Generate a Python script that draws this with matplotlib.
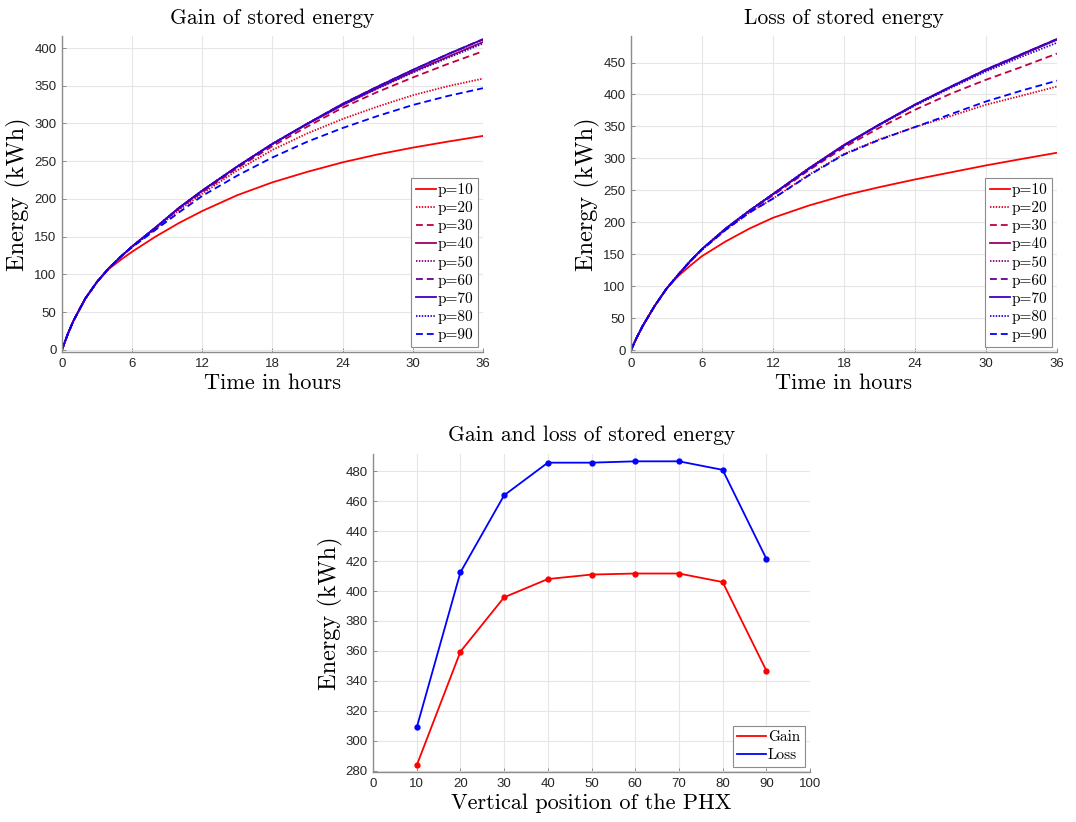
import matplotlib
matplotlib.use("Agg")
import matplotlib.pyplot as plt

# ---- data -------------------------------------------------------------
hours = [0, 0.5, 1, 2, 3, 4, 5, 6, 8, 10, 12, 15, 18, 21, 24, 27, 30, 33, 36]
positions = [10, 20, 30, 40, 50, 60, 70, 80, 90]

gain_p10 = [0, 21, 39, 68, 90, 107, 119, 130, 150, 168, 184, 205, 222, 236, 248.5, 259, 268, 276, 283.5]
gain_p20 = [0, 21, 39, 68, 90, 108, 123, 136, 160, 185, 207, 238, 265, 287, 306, 322.5, 337.5, 349.5, 359.5]
gain_p30 = [0, 21, 39, 68, 90, 108, 123, 137, 161, 187, 209, 241, 270, 296, 321, 342, 361, 379, 395.8]
gain_p40 = [0, 21, 39, 68, 90, 108, 123, 137, 162, 188, 211, 243, 273, 299.5, 324.5, 347, 368.5, 388.5, 408]
gain_p50 = [0, 21, 39, 68, 90, 108, 123, 137, 162, 188, 211, 243, 273, 300, 326, 349, 371, 391.5, 411]
gain_p60 = [0, 21, 39, 68, 90, 108, 123, 137, 162, 188, 211, 243, 273, 300, 326, 349, 371, 392, 411.7]
gain_p70 = [0, 21, 39, 68, 90, 108, 123, 137, 162, 188, 211, 243, 273, 300, 326, 349, 371, 392, 411.7]
gain_p80 = [0, 21, 39, 68, 90, 108, 123, 137, 162, 188, 211, 243, 273, 299.5, 324.5, 346.5, 367.5, 387, 406]
gain_p90 = [0, 21, 39, 68, 90, 108, 123, 136, 159, 182, 204, 231, 255, 276, 294, 310, 324.5, 336.5, 346.8]

loss_p10 = [0, 20, 38, 69, 96, 116, 132, 147, 170, 190, 207, 226, 242, 255, 267, 278, 289, 299, 308.8]
loss_p20 = [0, 20, 38, 69, 96, 118, 139, 157, 188, 215, 237, 274, 307, 330, 349, 366, 384, 398, 412.5]
loss_p30 = [0, 20, 38, 69, 96, 118, 139, 158, 189, 217, 242, 281, 317, 348, 376, 401, 423, 443, 464]
loss_p40 = [0, 20, 38, 69, 96, 118, 139, 158, 190, 218, 244, 284, 321, 353, 384, 411.5, 438, 462, 485.8]
loss_p50 = [0, 20, 38, 69, 96, 118, 139, 158, 190, 218, 244, 284, 321, 353, 384, 411.5, 438, 462, 485.8]
loss_p60 = [0, 20, 38, 69, 96, 118, 139, 158, 190, 218, 244, 283, 320, 353, 384, 412, 439, 463, 486.7]
loss_p70 = [0, 20, 38, 69, 96, 118, 139, 158, 190, 218, 244, 283, 320, 353, 384, 412, 439, 463, 486.7]
loss_p80 = [0, 20, 38, 69, 96, 118, 139, 158, 190, 218, 244, 284, 320, 352, 382.5, 410, 436, 459, 481]
loss_p90 = [0, 20, 38, 69, 96, 118, 139, 157, 188, 215, 237, 273, 306, 329, 349, 369, 389, 406, 421.6]

gain_series = [gain_p10, gain_p20, gain_p30, gain_p40, gain_p50,
               gain_p60, gain_p70, gain_p80, gain_p90]
loss_series = [loss_p10, loss_p20, loss_p30, loss_p40, loss_p50,
               loss_p60, loss_p70, loss_p80, loss_p90]

# energy after 36 h for each PHX position
gain_total = [s[-1] for s in gain_series]
loss_total = [s[-1] for s in loss_series]

# ---- style ------------------------------------------------------------
SERIF = "cmr10"
TICK_FONT = "Liberation Sans"
SPINE = "#8c8c8c"
TICK_COLOR = "#262626"
GRID = "#e6e6e6"

line_styles = ["solid", "dotted", "dashed"] * 3


def series_color(i, n=9):
    f = i / (n - 1)
    return (1 - f, 0, f)


def style_axes(ax):
    for side in ("top", "right"):
        ax.spines[side].set_visible(False)
    for side in ("left", "bottom"):
        ax.spines[side].set_color(SPINE)
        ax.spines[side].set_linewidth(1.0)
    ax.grid(True, color=GRID, linewidth=0.8)
    ax.set_axisbelow(True)
    ax.tick_params(direction="in", length=3, width=0.7, color=SPINE,
                   labelsize=9.5, labelcolor=TICK_COLOR, pad=4)
    for lab in ax.get_xticklabels() + ax.get_yticklabels():
        lab.set_fontfamily(TICK_FONT)


def add_legend(ax, handlelength):
    leg = ax.legend(loc="lower right", prop={"family": SERIF, "size": 11},
                    handlelength=handlelength, handletextpad=0.1,
                    labelspacing=0.27, borderpad=0.3, borderaxespad=0.35,
                    fancybox=False, framealpha=1, edgecolor="#8c8c8c")
    leg.get_frame().set_linewidth(0.8)
    for h in leg.legend_handles:
        h.set_marker("")
    return leg


def draw_profile(ax, series, title, ymax, yticks):
    for i, (vals, p) in enumerate(zip(series, positions)):
        ls = line_styles[i]
        kw = {}
        if ls == "dashed":
            kw["dashes"] = (3.8, 2.2)
        elif ls == "dotted":
            kw["dashes"] = (0.8, 0.8)
        ax.plot(hours, vals, color=series_color(i), linewidth=1.3,
                label=f"p={p}", **kw)
    ax.set_xlim(0, 36)
    ax.set_ylim(-3, ymax)
    ax.set_xticks(range(0, 37, 6))
    ax.set_yticks(yticks)
    ax.set_title(title, fontfamily=SERIF, fontsize=15.5, pad=9)
    ax.set_xlabel("Time in hours", fontfamily=SERIF, fontsize=16, labelpad=3)
    ax.set_ylabel("Energy (kWh)", fontfamily=SERIF, fontsize=17.5, labelpad=2)
    style_axes(ax)
    add_legend(ax, 1.3)


fig = plt.figure(figsize=(10.76, 8.22), dpi=100)

ax_gain = fig.add_axes([0.0576, 0.5718, 0.3913, 0.3844])
draw_profile(ax_gain, gain_series, "Gain of stored energy", 416,
             range(0, 401, 50))

ax_loss = fig.add_axes([0.5864, 0.5718, 0.3959, 0.3844])
draw_profile(ax_loss, loss_series, "Loss of stored energy", 491.5,
             range(0, 451, 50))

ax_sum = fig.add_axes([0.3467, 0.0608, 0.4061, 0.3869])
ax_sum.plot(positions, gain_total, color=(1, 0, 0), linewidth=1.3,
            marker="o", markersize=3.5, label="Gain")
ax_sum.plot(positions, loss_total, color=(0, 0, 1), linewidth=1.3,
            marker="o", markersize=3.5, label="Loss")
ax_sum.set_xlim(0, 100)
ax_sum.set_ylim(279, 491.6)
ax_sum.set_xticks(range(0, 101, 10))
ax_sum.set_yticks(range(280, 481, 20))
ax_sum.set_title("Gain and loss of stored energy", fontfamily=SERIF,
                 fontsize=15.5, pad=9)
ax_sum.set_xlabel("Vertical position of the PHX", fontfamily=SERIF,
                  fontsize=16, labelpad=3)
ax_sum.set_ylabel("Energy (kWh)", fontfamily=SERIF, fontsize=17.5, labelpad=2)
style_axes(ax_sum)
add_legend(ax_sum, 1.9)

fig.savefig("out.png", dpi=100)
